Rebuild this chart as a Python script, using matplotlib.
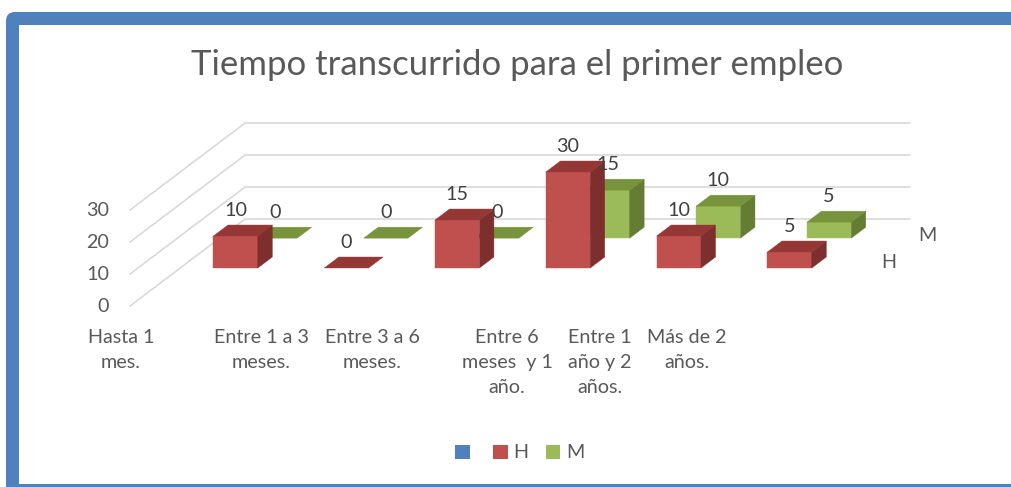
import matplotlib
matplotlib.use("Agg")
import matplotlib.pyplot as plt
from matplotlib.patches import Polygon, FancyBboxPatch, Rectangle, Patch

# ---------------- data ----------------
categories = ["Hasta 1\nmes.", "Entre 1 a 3\nmeses.", "Entre 3 a 6\nmeses.",
              "Entre 6\nmeses  y 1\naño.", "Entre 1\naño y 2\naños.", "Más de 2\naños."]
series_names = ["H", "M"]
values_H = [10, 0, 15, 30, 10, 5]
values_M = [0, 0, 0, 15, 10, 5]
y_ticks = [0, 10, 20, 30]
title = "Tiempo transcurrido para el primer empleo"

# ---------------- layout / style ----------------
W, H = 1011, 487
FONT = "Lato"
FS = 14.2
TXT = "#595959"
LBL = "#404040"
GRID = "#D9D9D9"
PX0, PY0 = 130, 306          # front-left corner of the floor (pixels)
CAT_W = 110.8                # pixels per category
UNIT = 3.2                   # pixels per value unit
DEPTH_X = 115 / CAT_W        # full-depth shift in category units
DEPTH_Y = 87 / UNIT          # full-depth shift in value units
ROW_D = {"H": 0.437, "M": 0.78}
BAR_DD = 0.126
BAR_W = 0.40
COLORS = {"H": ("#C0504D", "#953735", "#7D2F2D"),
          "M": ("#9BBB59", "#77933C", "#647D33")}
cat_label_px = [121, 261, 372, 507, 600, 687]

fig = plt.figure(figsize=(W / 100, H / 100), dpi=100)

# frame
bg = fig.add_axes([0, 0, 1, 1])
bg.set_xlim(0, W)
bg.set_ylim(H, 0)
bg.axis("off")
bg.add_patch(FancyBboxPatch((6, 12), 1100, 520, boxstyle="round,pad=0,rounding_size=9",
                            facecolor="#4F81BD", edgecolor="none"))
bg.add_patch(Rectangle((19, 25), 1100, 459, facecolor="white", edgecolor="none"))

ax = fig.add_axes([0, 0, 1, 1])
ax.set_facecolor("none")
ax.set_xlim(-PX0 / CAT_W, (W - PX0) / CAT_W)
ax.set_ylim(-(H - PY0) / UNIT, PY0 / UNIT)
ax.axis("off")

n = len(categories)


def P(x, v, d):
    return (x + DEPTH_X * d, v + DEPTH_Y * d)


# gridlines: left wall diagonals + back wall horizontals
for t in y_ticks:
    x0, y0 = P(0, t, 0)
    x1, y1 = P(0, t, 1)
    x2, y2 = P(n, t, 1)
    ax.plot([x0, x1, x2], [y0, y1, y2], color=GRID, lw=1.2, solid_joinstyle="miter", zorder=1)
    ax.text(x0 - 21 / CAT_W, y0, str(t), ha="right", va="center", fontsize=FS, color=TXT,
            family=FONT)


def bar(i, v, d0, cols):
    front, top, side = cols
    c = i + 0.5
    xl, xr = c - BAR_W / 2, c + BAR_W / 2
    d1 = d0 + BAR_DD
    if v > 0:
        ax.add_patch(Polygon([P(xl, 0, d0), P(xr, 0, d0), P(xr, v, d0), P(xl, v, d0)],
                             closed=True, facecolor=front, edgecolor=front, lw=0.3, zorder=3))
        ax.add_patch(Polygon([P(xr, 0, d0), P(xr, 0, d1), P(xr, v, d1), P(xr, v, d0)],
                             closed=True, facecolor=side, edgecolor=side, lw=0.3, zorder=3))
    ax.add_patch(Polygon([P(xl, v, d0), P(xr, v, d0), P(xr, v, d1), P(xl, v, d1)],
                         closed=True, facecolor=top, edgecolor=top, lw=0.3, zorder=3))
    ly = P(c, v, d1)[1]
    lx = P(c, v, d0)[0]
    ax.text(lx, ly + 14.5 / UNIT, str(v), ha="center", va="center", fontsize=FS,
            color=LBL, family=FONT, zorder=5)


for name, vals in [("M", values_M), ("H", values_H)]:
    for i, v in enumerate(vals):
        bar(i, v, ROW_D[name], COLORS[name])

# depth axis labels
for name, dx, dy in [("H", 36, 0), ("M", 36, -3)]:
    d = ROW_D[name] + BAR_DD / 2
    x, y = P(n, 0, d)
    ax.text(x + dx / CAT_W, y + dy / UNIT, name, ha="center", va="center", fontsize=FS,
            color=TXT, family=FONT)

# category labels
for lab, px in zip(categories, cat_label_px):
    bg.text(px, 329, lab, ha="center", va="top", fontsize=FS, color=TXT,
            family=FONT, linespacing=1.56)

# title
bg.text(517, 65, title, ha="center", va="center", fontsize=25, color=TXT, family=FONT)

# legend
handles = [Patch(facecolor="#4F81BD"), Patch(facecolor=COLORS["H"][0]), Patch(facecolor=COLORS["M"][0])]
leg = fig.legend(handles, ["", "H", "M"], loc="center", bbox_to_anchor=(520 / W, 1 - 453 / H),
                 ncol=3, frameon=False, handlelength=0.72, handleheight=0.72,
                 handletextpad=0.3, columnspacing=0.9, prop={"family": FONT, "size": FS})
for t in leg.get_texts():
    t.set_color(TXT)

fig.savefig("out.png", dpi=100)
